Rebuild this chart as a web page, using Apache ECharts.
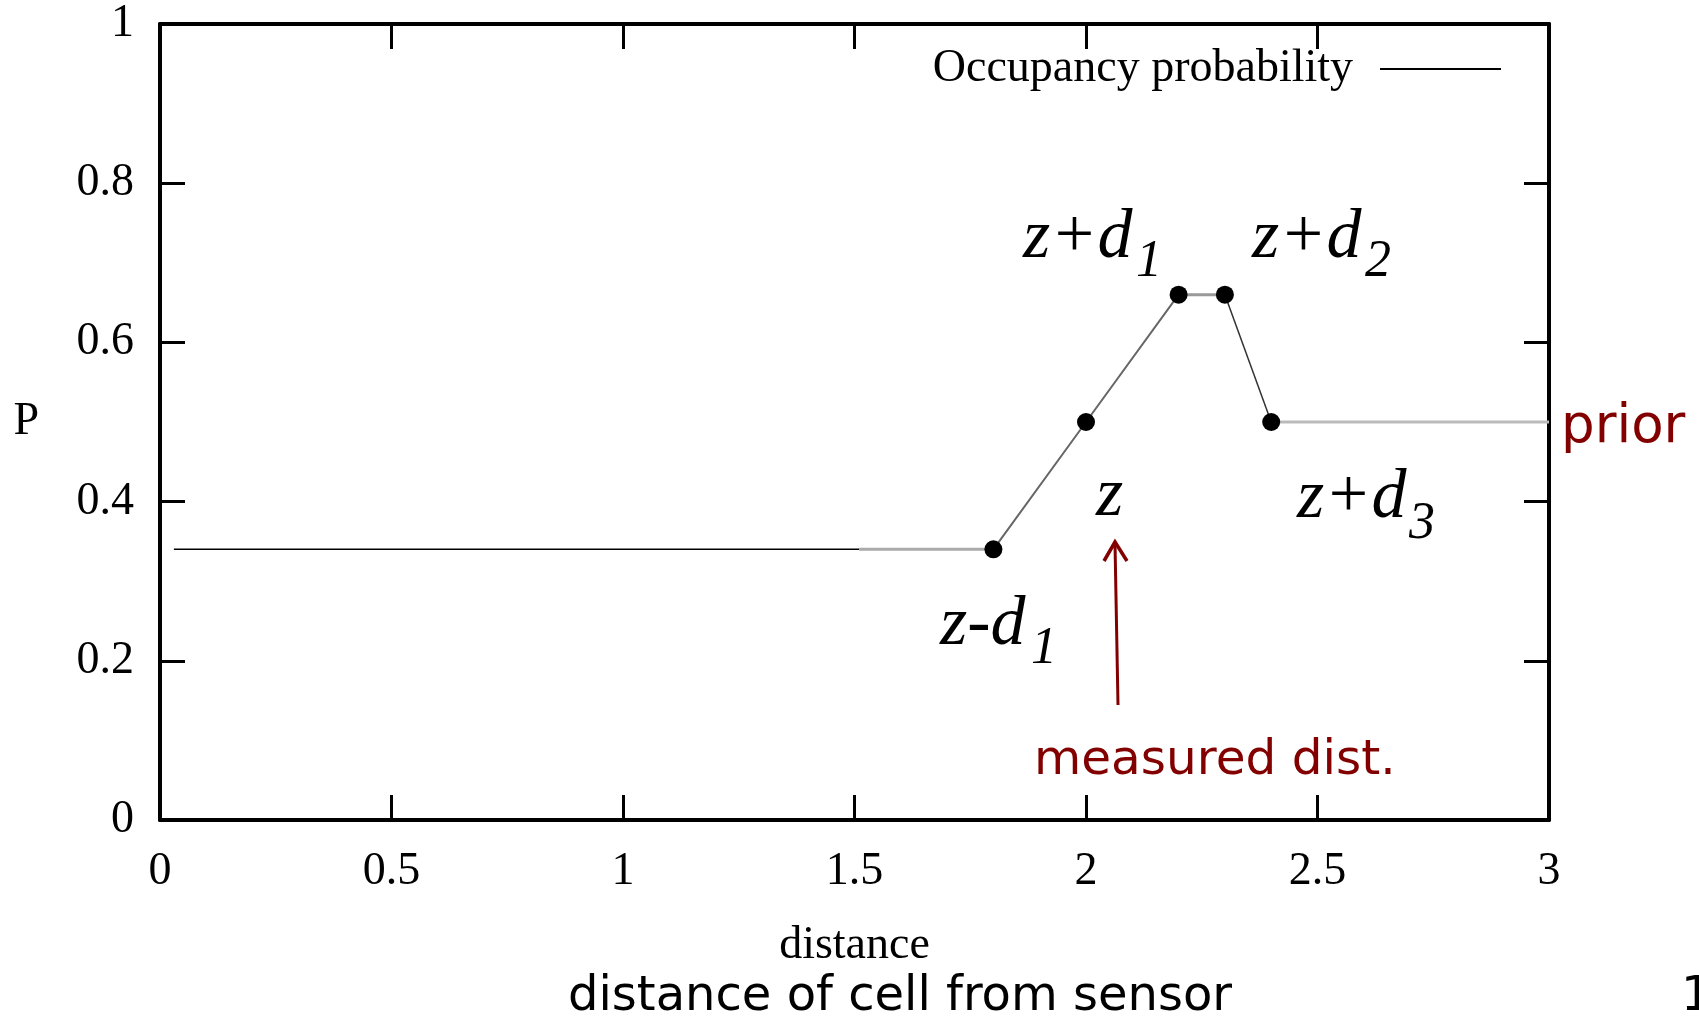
<!DOCTYPE html>
<html>
<head>
<meta charset="utf-8">
<script src="https://cdn.jsdelivr.net/npm/echarts@6/dist/echarts.min.js"></script>
<style>
html,body{margin:0;padding:0;background:#fff;}
#chart{width:1699px;height:1018px;}
</style>
</head>
<body>
<div id="chart"></div>
<script>
// ---- data ----
var xTicks = [0, 0.5, 1, 1.5, 2, 2.5, 3];
var yTicks = [0, 0.2, 0.4, 0.6, 0.8, 1];
var lineX = [0.03, 1.51, 1.8, 2.0, 2.2, 2.3, 2.4, 3.0];
var lineY = [0.34, 0.34, 0.34, 0.5, 0.66, 0.66, 0.5, 0.5];
var markerX = [1.8, 2.0, 2.2, 2.3, 2.4];
var markerY = [0.34, 0.5, 0.66, 0.66, 0.5];
var seriesName = 'Occupancy probability';

// segment styles (index ranges into lineX/lineY)
var segments = [
  {from: 0, to: 1, color: '#000000', width: 1.5, name: seriesName},
  {from: 1, to: 2, color: '#aaaaaa', width: 3},
  {from: 2, to: 4, color: '#666666', width: 2},
  {from: 4, to: 5, color: '#999999', width: 3},
  {from: 5, to: 6, color: '#333333', width: 1.5},
  {from: 6, to: 7, color: '#bbbbbb', width: 3}
];

var serif = 'Liberation Serif, Times New Roman, serif';
var sans = 'DejaVu Sans, Verdana, sans-serif';
var red = '#820000';

var series = segments.map(function (s, i) {
  var d = [];
  for (var k = s.from; k <= s.to; k++) d.push([lineX[k], lineY[k]]);
  return {
    type: 'line', name: s.name || ('seg' + i), data: d,
    showSymbol: false, symbol: 'none', silent: true,
    lineStyle: {color: s.color, width: s.width},
    itemStyle: {color: s.color}, z: 3
  };
});
series.push({
  type: 'scatter', name: 'markers',
  data: markerX.map(function (x, i) { return [x, markerY[i]]; }),
  symbol: 'circle', symbolSize: 18, itemStyle: {color: '#000', opacity: 1}, z: 5
});

var axisLine = {show: true, onZero: false, lineStyle: {color: '#000', width: 4}};
var tick = {show: true, inside: true, length: 25, lineStyle: {color: '#000', width: 3}};

function txt(text, x, y, opt) {
  opt = opt || {};
  return {
    type: 'text', x: x, y: y, z: 10,
    style: {
      text: text,
      fontFamily: opt.family || serif,
      fontSize: opt.size || 70,
      fontStyle: opt.style || 'italic',
      fill: opt.color || '#000',
      align: opt.align || 'left',
      verticalAlign: 'middle'
    }
  };
}

var chart = echarts.init(document.getElementById('chart'));
chart.setOption({
  animation: false,
  backgroundColor: '#fff',
  grid: {left: 160, right: 150, top: 24, bottom: 198, containLabel: false},
  legend: {
    data: [{name: seriesName, icon: 'rect', itemStyle: {color: '#000'}}],
    right: 193, top: 41, align: 'right',
    itemWidth: 121, itemHeight: 2,
    textStyle: {fontFamily: serif, fontSize: 46, color: '#000', padding: [0, 22, 0, 0]}
  },
  xAxis: [{
    type: 'value', min: 0, max: 3, interval: 0.5, position: 'bottom',
    axisLine: axisLine, axisTick: tick, splitLine: {show: false},
    axisLabel: {fontFamily: serif, fontSize: 46, color: '#000', margin: 29,
      formatter: function (v) { return String(v); }},
    name: 'distance', nameLocation: 'middle', nameGap: 103,
    nameTextStyle: {fontFamily: serif, fontSize: 46, color: '#000'}
  }, {
    type: 'value', min: 0, max: 3, interval: 0.5, position: 'top',
    axisLine: axisLine, axisTick: tick, axisLabel: {show: false}, splitLine: {show: false}
  }],
  yAxis: [{
    type: 'value', min: 0, max: 1, interval: 0.2, position: 'left',
    axisLine: axisLine, axisTick: tick, splitLine: {show: false},
    axisLabel: {fontFamily: serif, fontSize: 46, color: '#000', margin: 26,
      formatter: function (v) { return String(Math.round(v * 10) / 10); }},
    name: 'P', nameLocation: 'middle', nameGap: 121, nameRotate: 0,
    nameTextStyle: {fontFamily: serif, fontSize: 46, color: '#000'}
  }, {
    type: 'value', min: 0, max: 1, interval: 0.2, position: 'right',
    axisLine: axisLine, axisTick: tick, axisLabel: {show: false}, splitLine: {show: false}
  }],
  series: series,
  graphic: [
    txt('z+d', 1023, 239), txt('1', 1136, 262, {size: 52}),
    txt('z+d', 1252, 239), txt('2', 1365, 262, {size: 52}),
    txt('z', 1096, 497),
    txt('z+d', 1297, 499), txt('3', 1409, 524, {size: 52}),
    txt('z-d', 940, 626), txt('1', 1031, 649, {size: 52}),
    txt('prior', 1561, 428, {family: sans, size: 53, style: 'normal', color: red}),
    txt('measured dist.', 1034, 761, {family: sans, size: 48.5, style: 'normal', color: red}),
    txt('distance of cell from sensor', 568, 998, {family: sans, size: 48, style: 'normal'}),
    txt('1', 1681, 998, {family: sans, size: 48, style: 'normal'}),
    {type: 'polyline', z: 10, shape: {points: [[1118, 705], [1115, 543]]},
      style: {stroke: red, lineWidth: 3, fill: null}},
    {type: 'polyline', z: 10, shape: {points: [[1104, 561], [1115, 542], [1127, 561]]},
      style: {stroke: red, lineWidth: 3.5, fill: null, lineJoin: 'miter'}}
  ]
});
</script>
</body>
</html>
